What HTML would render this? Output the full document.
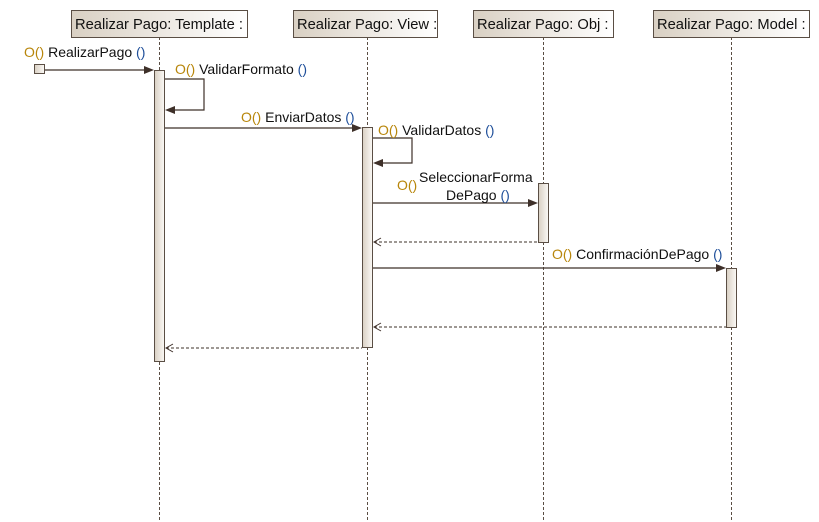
<!DOCTYPE html>
<html><head><meta charset="utf-8"><style>
html,body{margin:0;padding:0;background:#fff;}
svg{display:block;font-family:"Liberation Sans",sans-serif;}
</style></head><body>
<svg width="819" height="522" viewBox="0 0 819 522" xmlns="http://www.w3.org/2000/svg">
<defs>
<linearGradient id="g" x1="0" x2="1" y1="0" y2="0"><stop offset="0" stop-color="#d9d0c3"/><stop offset="1" stop-color="#ffffff"/></linearGradient>
<linearGradient id="a" x1="0" x2="1" y1="0" y2="0"><stop offset="0" stop-color="#d9d0c3"/><stop offset="1" stop-color="#fbf9f6"/></linearGradient>
</defs>
<g stroke="#5a4e44" stroke-dasharray="3,2" stroke-width="1">
<line x1="159.5" y1="37" x2="159.5" y2="522"/>
<line x1="367.5" y1="37" x2="367.5" y2="522"/>
<line x1="543.5" y1="37" x2="543.5" y2="522"/>
<line x1="731.5" y1="37" x2="731.5" y2="522"/>
</g>
<g stroke="#5a4e44" fill="url(#g)">
<rect x="71.5" y="10.5" width="176" height="27"/>
<rect x="293.5" y="10.5" width="144" height="27"/>
<rect x="473.5" y="10.5" width="140" height="27"/>
<rect x="653.5" y="10.5" width="156" height="27"/>
</g>
<g font-size="14.7" fill="#111">
<text x="75" y="29">Realizar Pago: Template :</text>
<text x="297" y="29">Realizar Pago: View :</text>
<text x="477" y="29">Realizar Pago: Obj :</text>
<text x="657" y="29">Realizar Pago: Model :</text>
</g>
<g stroke="#5a4e44" fill="url(#a)">
<rect x="154.5" y="70.5" width="10" height="291"/>
<rect x="362.5" y="127.5" width="10" height="220"/>
<rect x="538.5" y="183.5" width="10" height="59"/>
<rect x="726.5" y="268.5" width="10" height="59"/>
<rect x="34.5" y="64.5" width="10" height="9"/>
</g>
<g stroke="#3e3029" fill="none" stroke-width="1.2">
<line x1="45" y1="70" x2="148" y2="70"/>
<polyline points="165,79 204,79 204,110 172,110"/>
<line x1="165" y1="128" x2="355" y2="128"/>
<polyline points="373,138 412,138 412,163 380,163"/>
<line x1="373" y1="203" x2="531" y2="203"/>
<line x1="373" y1="268" x2="719" y2="268"/>
</g>
<g fill="#3e3029">
<polygon points="154,70 144,66 144,74"/>
<polygon points="165,110 175,106 175,114"/>
<polygon points="362,128 352,124 352,132"/>
<polygon points="373,163 383,159 383,167"/>
<polygon points="538,203 528,199 528,207"/>
<polygon points="726,268 716,264 716,272"/>
</g>
<g stroke="#3e3029" fill="none" stroke-dasharray="3,2">
<line x1="374" y1="242" x2="538" y2="242"/>
<line x1="374" y1="327" x2="726" y2="327"/>
<line x1="166" y1="348" x2="362" y2="348"/>
</g>
<g stroke="#3e3029" fill="none">
<polyline points="381,238 374,242 381,246"/>
<polyline points="381,323 374,327 381,331"/>
<polyline points="173,344 166,348 173,352"/>
</g>
<g font-size="14" fill="#111">
<text x="24" y="57"><tspan fill="#b8860b">O()</tspan> RealizarPago <tspan fill="#1f4f9a">()</tspan></text>
<text x="175" y="74"><tspan fill="#b8860b">O()</tspan> ValidarFormato <tspan fill="#1f4f9a">()</tspan></text>
<text x="241" y="122"><tspan fill="#b8860b">O()</tspan> EnviarDatos <tspan fill="#1f4f9a">()</tspan></text>
<text x="378" y="135"><tspan fill="#b8860b">O()</tspan> ValidarDatos <tspan fill="#1f4f9a">()</tspan></text>
<text x="397" y="190" fill="#b8860b">O()</text>
<text x="419" y="182">SeleccionarForma</text>
<text x="446" y="200">DePago <tspan fill="#1f4f9a">()</tspan></text>
<text x="552" y="259"><tspan fill="#b8860b">O()</tspan> ConfirmaciónDePago <tspan fill="#1f4f9a">()</tspan></text>
</g>
</svg>
</body></html>
